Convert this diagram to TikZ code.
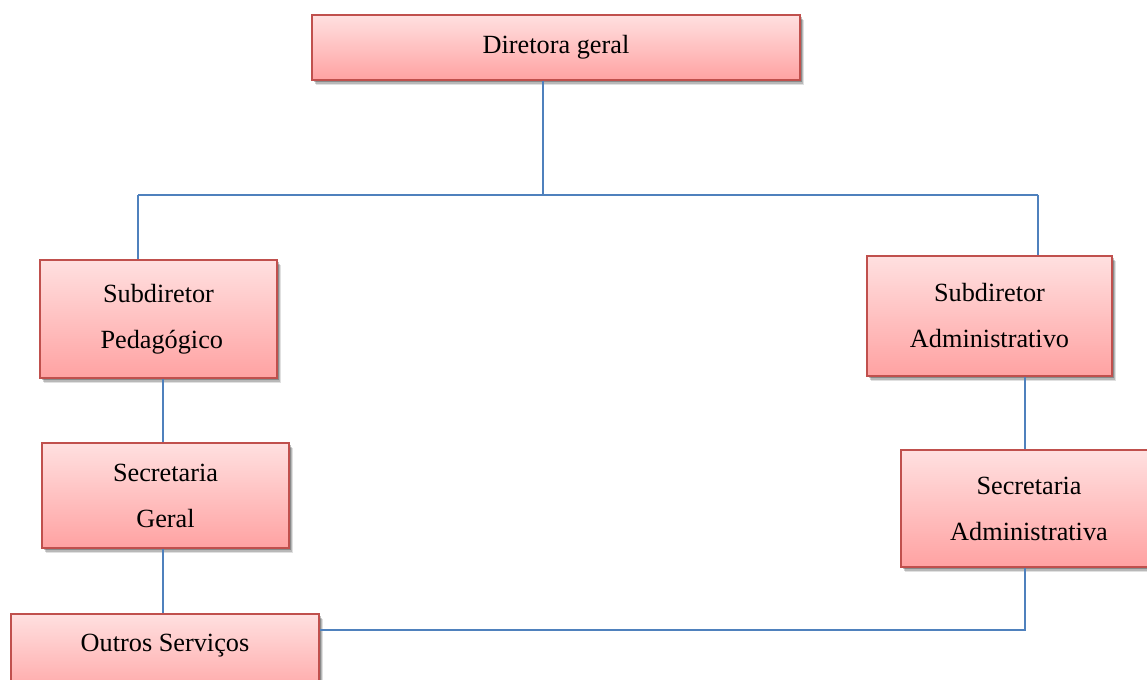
\documentclass[tikz,border=0pt]{standalone}
\usepackage{fontspec}
\setmainfont{Liberation Serif}
\usetikzlibrary{shadows}
\definecolor{linkblue}{RGB}{79,129,189}
\definecolor{boxborder}{RGB}{192,80,77}
\definecolor{boxtop}{RGB}{255,224,224}
\definecolor{boxbottom}{RGB}{255,162,162}
\tikzset{
  orgbox/.style={draw=boxborder, line width=1.1pt, top color=boxtop, bottom color=boxbottom,
    align=center, inner sep=0pt, font=\fontsize{19.7}{34.5}\selectfont,
    general shadow={shadow xshift=2.8pt, shadow yshift=-4pt, opacity=0.12, fill=black},
    general shadow={shadow xshift=2pt, shadow yshift=-2.8pt, opacity=0.18, fill=black},
    general shadow={shadow xshift=1.2pt, shadow yshift=-1.6pt, opacity=0.25, fill=black}},
  link/.style={draw=linkblue, line width=1.5pt}
}
\begin{document}
\begin{tikzpicture}[x=0.75pt, y=-0.75pt]
\useasboundingbox (0,0) rectangle (1147,680);
\clip (0,0) rectangle (1147,680);
% coordinates for connector routing
\coordinate (j) at (543,195);
\coordinate (jl) at (138,195);
\coordinate (jr) at (1037.5,195);
\coordinate (cl) at (163,0);
\coordinate (cr) at (1025,0);
\coordinate (cb) at (1025,630);
% boxes
\node[orgbox, minimum width=366pt, minimum height=48.75pt] (dg) at (556,47.5) {Diretora geral};
\node[orgbox, minimum width=177.75pt, minimum height=88.5pt] (sp) at (158.5,319) {Subdiretor\\\hspace*{0.25em}Pedagógico};
\node[orgbox, minimum width=185.25pt, minimum height=78.75pt] (sg) at (165.5,495.5) {Secretaria\\Geral};
\node[orgbox, minimum width=231pt, text height=28.5pt, text depth=36pt, anchor=base] (os) at (165,652) {Outros Serviços};
\node[orgbox, minimum width=183.75pt, minimum height=90pt] (sa) at (989.5,316) {Subdiretor\\Administrativo};
\node[orgbox, minimum width=192pt, minimum height=87.75pt] (sca) at (1029,508.5) {Secretaria\\Administrativa};
% connectors
\draw[link] (dg.south -| j) -- (j);
\draw[link] (jl) -- (jr);
\draw[link] (jl) -- (jl |- sp.north);
\draw[link] (jr) -- (jr |- sa.north);
\draw[link] (cl |- sp.south) -- (cl |- sg.north);
\draw[link] (cl |- sg.south) -- (cl |- os.north);
\draw[link] (cr |- sa.south) -- (cr |- sca.north);
\draw[link] (cr |- sca.south) -- (cb) -- (os.east |- cb);
\end{tikzpicture}
\end{document}
